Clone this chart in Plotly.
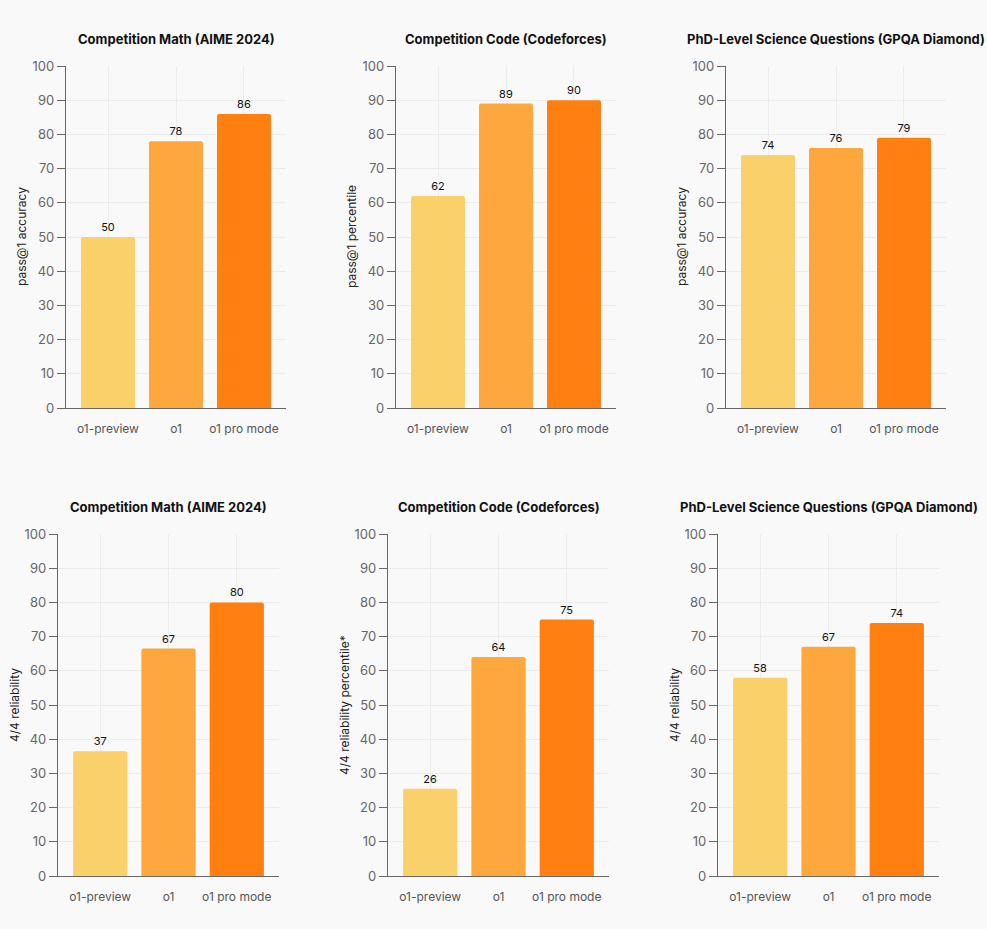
import plotly.graph_objects as go

models = ["o1-preview", "o1", "o1 pro mode"]
colors = ["#F9D06A", "#FDA73D", "#FF8011"]

titles = [
    "Competition Math (AIME 2024)",
    "Competition Code (Codeforces)",
    "PhD-Level Science Questions (GPQA Diamond)",
    "Competition Math (AIME 2024)",
    "Competition Code (Codeforces)",
    "PhD-Level Science Questions (GPQA Diamond)",
]
ytitles = [
    "pass@1 accuracy",
    "pass@1 percentile",
    "pass@1 accuracy",
    "4/4 reliability",
    "4/4 reliability percentile*",
    "4/4 reliability",
]

math_pass1 = [50, 78, 86]
code_pass1 = [62, 89, 90]
gpqa_pass1 = [74, 76, 79]
math_rel = [36.5, 66.5, 80]
code_rel = [25.5, 64, 75]
gpqa_rel = [58, 67, 74]
series = [math_pass1, code_pass1, gpqa_pass1, math_rel, code_rel, gpqa_rel]

yticks = [0, 10, 20, 30, 40, 50, 60, 70, 80, 90, 100]

W, H = 987, 929
# plot areas in pixels: (left, right, top, bottom)
boxes = [
    (66, 286, 66, 408), (396, 616, 66, 408), (726, 946, 66, 408),
    (58, 279, 534, 876), (388, 609, 534, 876), (718, 939, 534, 876),
]

FONT = "Inter, Roboto, sans-serif"
fig = go.Figure()
annotations = []
layout = {}
for i, (vals, box) in enumerate(zip(series, boxes)):
    l, r, t, b = box
    n = "" if i == 0 else str(i + 1)
    xa, ya = "x" + n, "y" + n
    fig.add_trace(go.Bar(
        x=models, y=vals, xaxis=xa, yaxis=ya,
        marker=dict(color=colors, line=dict(width=0), cornerradius=2),
        width=0.794,
        texttemplate="%{y:.0f}", textposition="outside",
        textfont=dict(size=11, color="#111111", family=FONT),
        cliponaxis=False, showlegend=False, hoverinfo="skip",
    ))
    layout["xaxis" + n] = dict(
        domain=[l / W, r / W], anchor=ya, range=[-0.618, 2.618],
        showgrid=True, gridcolor="#ECECEC", gridwidth=1,
        showline=True, linecolor="#666666", linewidth=1.3,
        ticks="", ticklabelstandoff=9, automargin=False,
        tickfont=dict(size=12, color="#555555", family=FONT),
        zeroline=False, fixedrange=True,
    )
    layout["yaxis" + n] = dict(
        domain=[1 - b / H, 1 - t / H], anchor=xa, range=[0, 100],
        tickvals=yticks, showgrid=True, gridcolor="#ECECEC", gridwidth=1,
        showline=True, linecolor="#666666", linewidth=1.3,
        ticks="outside", ticklen=8, tickcolor="#666666", tickwidth=1.3,
        tickfont=dict(size=13, color="#666666", family=FONT), automargin=False,
        zeroline=False, fixedrange=True,
    )
    annotations.append(dict(
        text="<b>" + titles[i] + "</b>", x=(l + r) / 2 / W, y=1 - (39 if i < 3 else 507) / H,
        xref="paper", yref="paper", showarrow=False, xanchor="center", yanchor="middle",
        font=dict(size=13, color="#111111", family=FONT),
    ))
    annotations.append(dict(
        text=ytitles[i], x=(l - 44) / W, y=1 - (t + b) / 2 / H,
        xref="paper", yref="paper", showarrow=False, textangle=-90,
        xanchor="center", yanchor="middle",
        font=dict(size=12, color="#222222", family=FONT),
    ))

fig.update_layout(
    width=W, height=H, margin=dict(l=0, r=0, t=0, b=0, autoexpand=False),
    paper_bgcolor="#F9F9F9", plot_bgcolor="#F9F9F9",
    bargap=0.2, annotations=annotations, **layout,
)
fig.write_html(
    "out.html",
    config={"displayModeBar": False},
    post_script="document.body.style.margin='0';document.body.style.background='#F9F9F9';",
)
